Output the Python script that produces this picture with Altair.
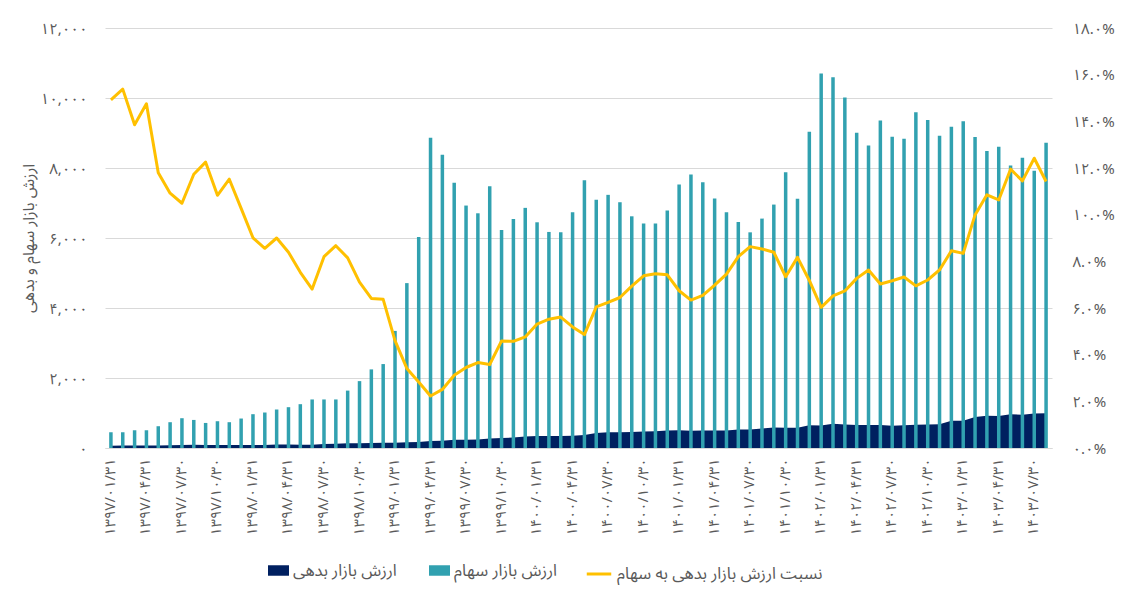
import altair as alt
import pandas as pd

# ---- data ----
stock = [450, 450, 507, 507, 622, 737, 851, 802, 716, 765,
         737, 842, 966, 1014, 1100, 1166, 1252, 1387, 1387, 1387,
         1640, 1911, 2246, 2398, 3345, 4711, 6030, 8867, 8380, 7578,
         6927, 6706, 7480, 6230, 6546, 6861, 6449, 6173, 6163, 6735,
         7648, 7090, 7233, 7022, 6620, 6411, 6411, 6783, 7528, 7815,
         7595, 7127, 6735, 6460, 6162, 6554, 6955, 7881, 7119, 9039,
         10701, 10595, 10013, 9010, 8646, 9354, 8896, 8838, 9592, 9371,
         8924, 9182, 9334, 8884, 8483, 8609, 8073, 8294, 7921, 8724]

debt = [67, 69, 70, 75, 73, 80, 89, 94, 88, 83,
        85, 86, 87, 87, 99, 98, 94, 94, 114, 120,
        134, 136, 144, 153, 152, 161, 171, 198, 210, 236,
        239, 245, 268, 286, 299, 327, 342, 341, 346, 350,
        372, 429, 451, 453, 459, 473, 479, 503, 507, 495,
        497, 497, 502, 530, 532, 559, 584, 578, 582, 649,
        645, 691, 674, 655, 660, 658, 638, 648, 667, 675,
        681, 776, 778, 888, 920, 915, 965, 950, 984, 996]

ratio = [14.92, 15.38, 13.85, 14.75, 11.80, 10.92, 10.49, 11.73, 12.25, 10.83,
         11.52, 10.27, 9.01, 8.56, 9.00, 8.39, 7.53, 6.81, 8.20, 8.67,
         8.15, 7.11, 6.41, 6.37, 4.60, 3.41, 2.83, 2.23, 2.51, 3.12,
         3.45, 3.66, 3.58, 4.59, 4.57, 4.76, 5.31, 5.52, 5.61, 5.19,
         4.86, 6.05, 6.24, 6.45, 6.94, 7.38, 7.47, 7.42, 6.74, 6.34,
         6.54, 6.98, 7.45, 8.20, 8.63, 8.53, 8.39, 7.34, 8.17, 7.18,
         6.03, 6.52, 6.73, 7.27, 7.63, 7.03, 7.17, 7.33, 6.95, 7.20,
         7.63, 8.45, 8.34, 9.99, 10.85, 10.63, 11.95, 11.45, 12.42, 11.42]

PERSIAN = str.maketrans("0123456789", "۰۱۲۳۴۵۶۷۸۹")
months = []
for yr in range(1397, 1404):
    for mo in range(1, 13):
        if len(months) < len(stock):
            day = 31 if mo <= 6 else (30 if mo <= 11 else 29)
            months.append(f"{yr}/{mo:02d}/{day}".translate(PERSIAN))
shown_months = months[::3]

left_ticks = [0, 2000, 4000, 6000, 8000, 10000, 12000]
left_labels = ["۰", "۲,۰۰۰", "۴,۰۰۰", "۶,۰۰۰", "۸,۰۰۰", "۱۰,۰۰۰", "۱۲,۰۰۰"]
right_ticks = [0, 2, 4, 6, 8, 10, 12, 14, 16, 18]
right_labels = ["۰.۰%", "۲.۰%", "۴.۰%", "۶.۰%", "۸.۰%", "۱۰.۰%", "۱۲.۰%",
                "۱۴.۰%", "۱۶.۰%", "۱۸.۰%"]

name_debt = "ارزش بازار بدهی"
name_stock = "ارزش بازار سهام"
name_ratio = "نسبت ارزش بازار بدهی به سهام"
y_title = "ارزش بازار سهام و بدهی"

NAVY = "#002060"
TEAL = "#31A1B0"
GOLD = "#FFC000"
GRAY = "#595959"
GRID = "#D9D9D9"
FONT = "Noto Sans Arabic, DejaVu Sans, sans-serif"


def label_expr(vals, labels):
    return " ".join(f"datum.value == {v} ? '{l}' :" for v, l in zip(vals, labels)) + " ''"


df = pd.DataFrame({
    "month": months,
    "stock": stock,
    "debt": debt,
    "ratio": ratio,
    "debt_name": name_debt,
    "stock_name": name_stock,
    "ratio_name": name_ratio,
})

x_enc = alt.X(
    "month:N", sort=months, title=None,
    scale=alt.Scale(paddingInner=0, paddingOuter=0),
    axis=alt.Axis(values=shown_months, labelAngle=-90, labelAlign="right",
                  labelBaseline="middle", labelPadding=10, ticks=False,
                  domainColor=GRID, domainWidth=1, labelFontSize=14.5,
                  labelColor=GRAY, labelFont=FONT, grid=False),
)

left_scale = alt.Scale(domain=[0, 12000], nice=False, zero=True)
left_axis = alt.Axis(orient="left", values=left_ticks,
                     labelExpr=label_expr(left_ticks, left_labels),
                     domain=False, ticks=False, grid=True, gridColor=GRID,
                     gridWidth=1, labelFontSize=15, labelColor=GRAY,
                     labelFont=FONT, labelPadding=18, title=y_title,
                     titleFontSize=16, titleFontWeight="normal",
                     titleColor=GRAY, titleFont=FONT, titlePadding=4)

fill_scale = alt.Scale(domain=[name_debt, name_stock], range=[NAVY, TEAL])
fill_legend = alt.Legend(title=None, orient="none", legendX=163, legendY=532,
                         direction="horizontal",
                         symbolType="M-1,-0.5H1V0.5H-1Z",
                         symbolSize=440, symbolStrokeWidth=0, symbolOpacity=1,
                         labelFontSize=16.5, labelColor=GRAY, labelFont=FONT,
                         labelOffset=4, columnPadding=32, labelLimit=400)

base = alt.Chart(df).encode(x=x_enc)

area = base.mark_area(opacity=1).encode(
    y=alt.Y("debt:Q", scale=left_scale, axis=left_axis),
    fill=alt.Fill("debt_name:N", scale=fill_scale, legend=fill_legend),
)

bars = base.mark_bar(size=3.5, opacity=1).encode(
    y=alt.Y("stock:Q", scale=left_scale, axis=left_axis),
    fill=alt.Fill("stock_name:N", scale=fill_scale, legend=fill_legend),
)

line = base.mark_line(strokeWidth=3, strokeJoin="round").encode(
    y=alt.Y("ratio:Q", scale=alt.Scale(domain=[0, 18], nice=False),
            axis=alt.Axis(orient="right", values=right_ticks,
                          labelExpr=label_expr(right_ticks, right_labels),
                          domain=False, ticks=False, grid=False,
                          labelFontSize=15, labelColor=GRAY, labelFont=FONT,
                          labelPadding=20, title=None)),
    stroke=alt.Stroke("ratio_name:N", scale=alt.Scale(domain=[name_ratio], range=[GOLD]),
                      legend=alt.Legend(title=None, orient="none", legendX=480,
                                        legendY=532, symbolType="stroke",
                                        symbolSize=600, symbolStrokeWidth=3,
                                        labelFontSize=16.5, labelColor=GRAY,
                                        labelFont=FONT, labelOffset=4,
                                        labelLimit=400)),
)

chart = (
    alt.layer(alt.layer(area, bars), line)
    .resolve_scale(y="independent")
    .properties(
        width=947, height=420,
        autosize=alt.AutoSizeParams(type="none"),
        padding={"left": 97, "top": 20, "right": 72, "bottom": 137},
        background="white",
    )
    .configure_view(stroke=None)
)

chart.save("out.html", embed_options={"renderer": "svg", "actions": False})
